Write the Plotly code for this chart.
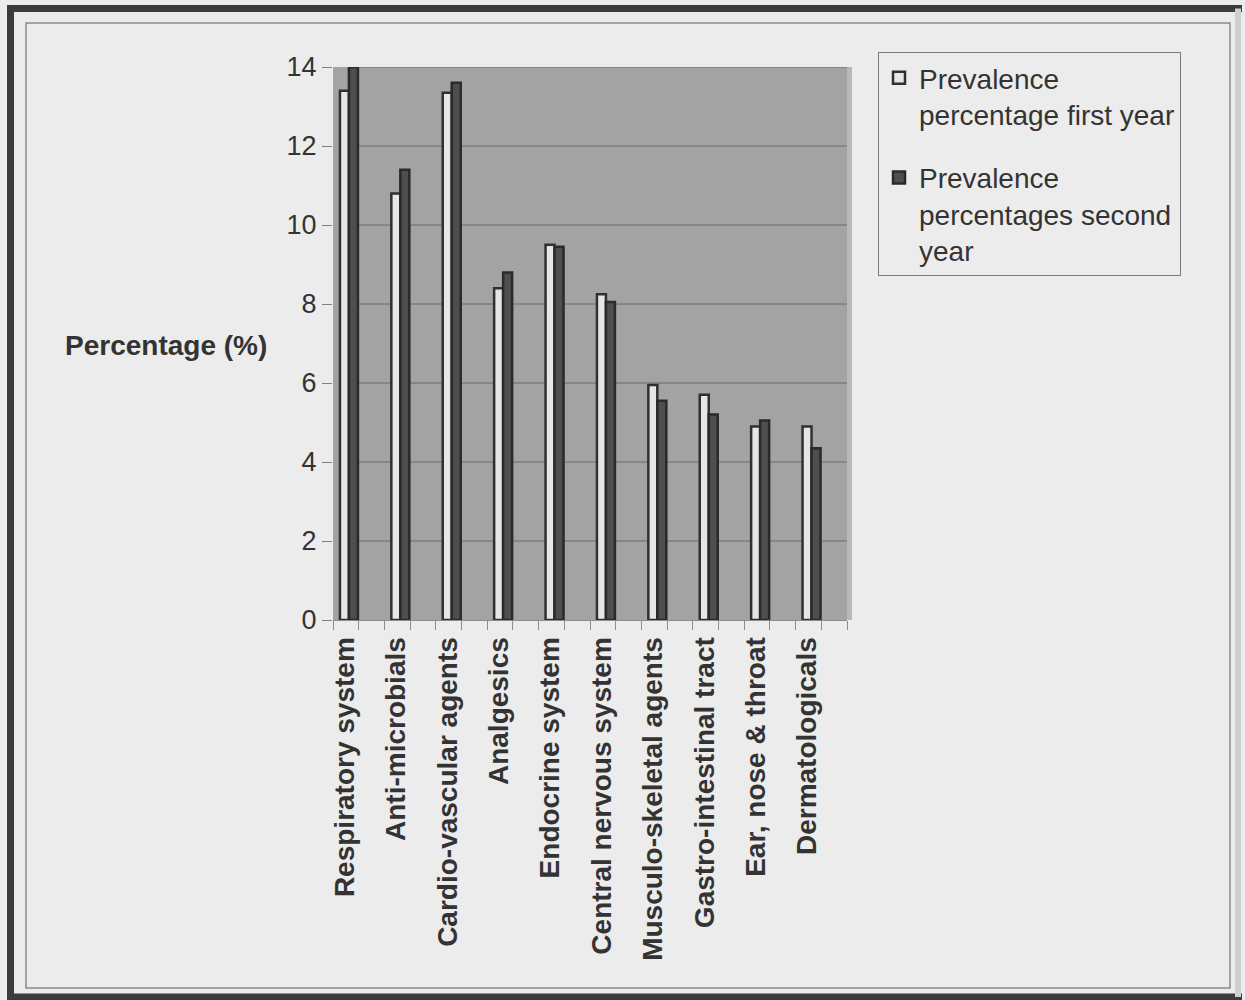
import plotly.graph_objects as go

# Therapeutic categories and prevalence (%) for the two study years
categories = [
    "Respiratory system", "Anti-microbials", "Cardio-vascular agents", "Analgesics",
    "Endocrine system", "Central nervous system", "Musculo-skeletal agents",
    "Gastro-intestinal tract", "Ear, nose & throat", "Dermatologicals",
]
first_year = [13.4, 10.8, 13.35, 8.4, 9.5, 8.25, 5.95, 5.7, 4.9, 4.9]
second_year = [14.0, 11.4, 13.6, 8.8, 9.45, 8.05, 5.55, 5.2, 5.05, 4.35]
y_ticks = [0, 2, 4, 6, 8, 10, 12, 14]

W, H = 1245, 1000
L, R, T, B = 333, 847, 67, 620  # plot area in pixels

def px_x(x):
    return (x - L) / (R - L)

def px_y(y):
    return (B - y) / (B - T)

FONT = "Liberation Sans, Arial, sans-serif"
TEXT = "#333333"

fig = go.Figure()
fig.add_trace(go.Bar(
    x=categories, y=first_year,
    name="Prevalence<br>percentage first year",
    marker=dict(color="#e6e6e6", line=dict(color="#303030", width=2.5)),
    width=0.175, offset=-0.365, legendgroup="a",
))
fig.add_trace(go.Bar(
    x=categories, y=second_year,
    name="Prevalence<br>percentages second<br>year",
    marker=dict(color="#4e4e4e", line=dict(color="#2a2a2a", width=2.5)),
    width=0.175, offset=-0.19, legendgroup="b",
))
# half-category tick marks along the floor
fig.add_trace(go.Scatter(x=[-0.5, 9.5], y=[0, 0], xaxis="x2", mode="lines",
                         line=dict(width=0), showlegend=False, hoverinfo="skip"))

shapes = []
# grid on the back wall, starting behind the side wall
for v in y_ticks[1:]:
    shapes.append(dict(type="line", xref="paper", yref="y", x0=px_x(358), x1=1,
                       y0=v, y1=v, line=dict(color="#6a6a6a", width=1), layer="below"))
# side wall / floor edges
shapes.append(dict(type="line", xref="paper", yref="paper", x0=px_x(358), x1=px_x(358),
                   y0=0, y1=1, line=dict(color="#9a9a9a", width=1), layer="below"))
shapes.append(dict(type="rect", xref="paper", yref="paper", x0=1, x1=px_x(852),
                   y0=0, y1=1, fillcolor="#b8b8b8", line=dict(width=0), layer="below"))
# outer frame: dark on left, top and bottom, light on the right
shapes.append(dict(
    type="path", xref="paper", yref="paper",
    path=(f"M {px_x(1242)},{px_y(8.5)} L {px_x(10.5)},{px_y(8.5)} "
          f"L {px_x(10.5)},{px_y(997)} L {px_x(1242)},{px_y(997)}"),
    line=dict(color="#3c3c3c", width=7), layer="below"))
shapes.append(dict(type="line", xref="paper", yref="paper",
                   x0=px_x(1238), x1=px_x(1238), y0=px_y(997), y1=px_y(8.5),
                   line=dict(color="#cfcfcf", width=6), layer="below"))
# inner frame
shapes.append(dict(type="rect", xref="paper", yref="paper",
                   x0=px_x(26), x1=px_x(1230), y0=px_y(988), y1=px_y(23),
                   line=dict(color="#8a8a8a", width=1.5), layer="below"))

fig.update_layout(
    width=W, height=H,
    margin=dict(l=L, r=W - R, t=T, b=H - B, pad=0),
    paper_bgcolor="#ececec",
    plot_bgcolor="#a3a3a3",
    font=dict(family=FONT, color=TEXT),
    barmode="overlay",
    shapes=shapes,
    showlegend=True,
    legend=dict(
        x=px_x(878), y=px_y(52), xanchor="left", yanchor="top",
        bgcolor="#ececec", bordercolor="#7a7a7a", borderwidth=1,
        font=dict(size=28, color=TEXT, family=FONT),
        traceorder="grouped", tracegroupgap=24, itemwidth=30, valign="top",
    ),
    xaxis=dict(
        type="category", range=[-0.5, 9.5],
        tickangle=-90, tickfont=dict(size=28, weight="bold", color=TEXT),
        ticks="", showgrid=False, showline=True, linecolor="#8c8c8c", linewidth=1,
        ticklabelshift=-14, ticklabelstandoff=5,
    ),
    xaxis2=dict(
        overlaying="x", anchor="y", side="bottom", range=[-0.5, 9.5],
        tick0=-0.5, dtick=0.5, ticks="outside", ticklen=9, tickcolor="#8c8c8c",
        showticklabels=False, showgrid=False, zeroline=False,
    ),
    yaxis=dict(
        range=[0, 14], tickvals=y_ticks, ticks="outside", ticklen=10,
        tickcolor="#808080", tickfont=dict(size=27, color=TEXT),
        showgrid=False, zeroline=False, showline=False,
    ),
    annotations=[dict(
        text="Percentage (%)", xref="paper", yref="paper",
        x=px_x(166), y=px_y(345), xanchor="center", yanchor="middle",
        showarrow=False, font=dict(size=28, weight="bold", color=TEXT),
    )],
)

fig.write_html("out.html")
